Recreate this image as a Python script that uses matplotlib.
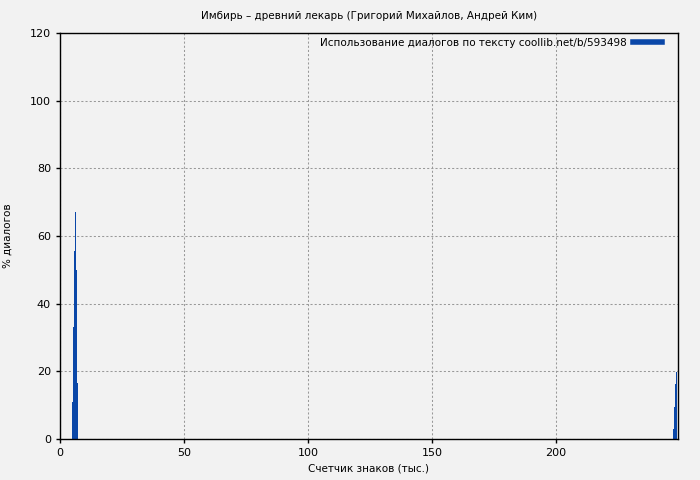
import matplotlib
matplotlib.use("Agg")
import matplotlib.pyplot as plt
from matplotlib.lines import Line2D

title = "Имбирь – древний лекарь (Григорий Михайлов, Андрей Ким)"
xlabel = "Счетчик знаков (тыс.)"
ylabel = "% диалогов"
legend_label = "Использование диалогов по тексту coollib.net/b/593498"

x_pos = [5.0, 5.4, 5.8, 6.2, 6.6, 7.0, 247.2, 247.6, 248.0, 248.4]
values = [11.0, 33.0, 55.5, 67.0, 50.0, 16.5, 3.0, 9.5, 16.3, 19.8]
bar_w = 0.4
color = "#0a47a8"
bg = "#f2f2f2"

fig = plt.figure(figsize=(7, 4.8), dpi=100, facecolor=bg)
ax = fig.add_axes([60/700, 41/480, 618/700, 406/480], facecolor=bg)
ax.bar(x_pos, values, width=bar_w, color=color, align="edge", linewidth=0)
ax.set_xlim(0, 249.2)
ax.set_ylim(0, 120)
ax.set_xticks([0, 50, 100, 150, 200])
ax.set_yticks([0, 20, 40, 60, 80, 100, 120])
ax.grid(True, color="#999999", linestyle=(0, (2, 2)), linewidth=0.75)
ax.set_axisbelow(True)
ax.tick_params(labelsize=8, direction="out", length=3, width=1)
ax.set_title(title, fontsize=7.5, pad=10)
ax.set_xlabel(xlabel, fontsize=7.5)
ax.set_ylabel(ylabel, fontsize=7.5)
ax.yaxis.set_label_coords(-0.076, 0.5)
for s in ax.spines.values():
    s.set_linewidth(1)
h = Line2D([], [], color=color, linewidth=4)
ax.legend([h], [legend_label], loc="upper right", fontsize=7.5, frameon=False,
          handlelength=2.8, markerfirst=False, handletextpad=0.6,
          bbox_to_anchor=(0.99, 1.012))
fig.savefig("out.png", dpi=100, facecolor=bg)
